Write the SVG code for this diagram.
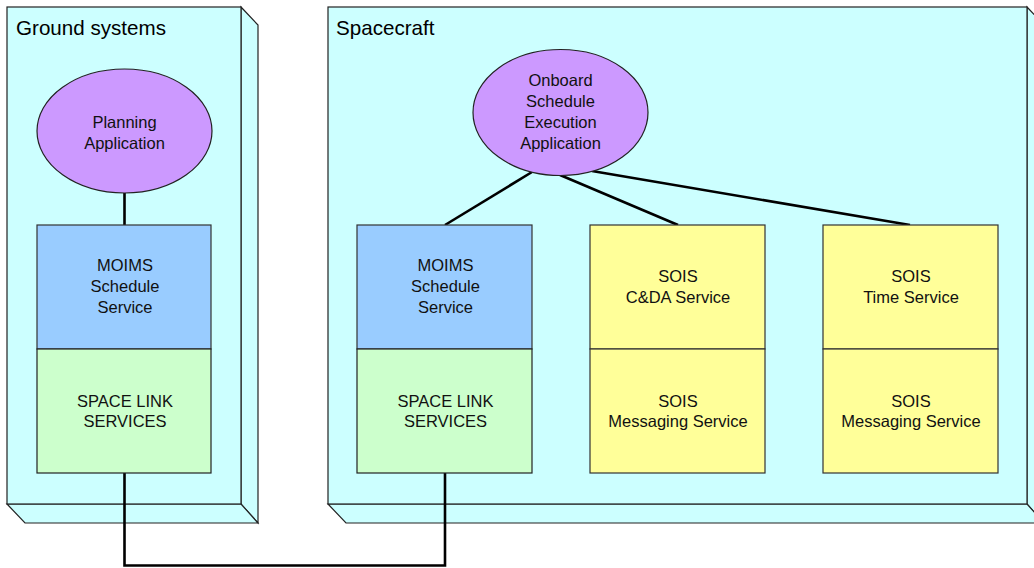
<svg xmlns="http://www.w3.org/2000/svg" width="1034" height="568" viewBox="0 0 1034 568">
  <style>
    .node3d { fill: #CCFFFF; stroke: #222; stroke-width: 1.2; stroke-linejoin: miter; }
    .ell { fill: #CC99FF; stroke: #222; stroke-width: 1.2; }
    .blue { fill: #99CCFF; stroke: #333; stroke-width: 1.2; }
    .green { fill: #CCFFCC; stroke: #222; stroke-width: 1.2; }
    .yellow { fill: #FFFF99; stroke: #333; stroke-width: 1.2; }
    .title { font-family: "Liberation Sans", Arial, sans-serif; font-size: 20.6px; fill: #000; }
    .lbl { font-family: "Liberation Sans", Arial, sans-serif; font-size: 16.5px; fill: #111; text-anchor: middle; }
    .conn { fill: none; stroke: #000; stroke-width: 2.6; }
  </style>

  <!-- Ground systems node (3D box) -->
  <g id="ground-systems">
    <polygon class="node3d" points="241,7 258,25 258,523 241,504"/>
    <polygon class="node3d" points="7,504 241,504 258,523 25,523"/>
    <rect class="node3d" x="7" y="7" width="234" height="497"/>
    <text class="title" x="16" y="35">Ground systems</text>
  </g>

  <!-- Spacecraft node (3D box) -->
  <g id="spacecraft">
    <polygon class="node3d" points="1027,7 1044,25 1044,523 1027,504"/>
    <polygon class="node3d" points="328,504 1027,504 1044,523 346,523"/>
    <rect class="node3d" x="328" y="7" width="699" height="497"/>
    <text class="title" x="336" y="35">Spacecraft</text>
  </g>

  <!-- Connectors -->
  <g id="connectors">
    <line class="conn" x1="124.5" y1="193" x2="124.5" y2="225"/>
    <line class="conn" x1="532" y1="172" x2="445" y2="225"/>
    <line class="conn" x1="560" y1="175" x2="678" y2="225"/>
    <line class="conn" x1="592" y1="171" x2="910" y2="225"/>
    <polyline class="conn" points="124.5,473 124.5,565.5 445,565.5 445,473"/>
  </g>

  <!-- Ground-side components -->
  <g id="planning-application">
    <ellipse class="ell" cx="124.5" cy="131" rx="87.5" ry="62"/>
    <text class="lbl" x="124.5" y="128">Planning</text>
    <text class="lbl" x="124.5" y="148.5">Application</text>
  </g>
  <g id="ground-moims">
    <rect class="blue" x="37" y="225" width="174" height="124"/>
    <text class="lbl" x="125" y="271">MOIMS</text>
    <text class="lbl" x="125" y="292">Schedule</text>
    <text class="lbl" x="125" y="313">Service</text>
  </g>
  <g id="ground-sls">
    <rect class="green" x="37" y="349" width="174" height="124"/>
    <text class="lbl" x="125" y="407">SPACE LINK</text>
    <text class="lbl" x="125" y="427">SERVICES</text>
  </g>

  <!-- Spacecraft-side components -->
  <g id="onboard-application">
    <ellipse class="ell" cx="560.5" cy="112.5" rx="87.5" ry="63"/>
    <text class="lbl" x="560.5" y="86">Onboard</text>
    <text class="lbl" x="560.5" y="107">Schedule</text>
    <text class="lbl" x="560.5" y="128">Execution</text>
    <text class="lbl" x="560.5" y="149">Application</text>
  </g>
  <g id="sc-moims">
    <rect class="blue" x="357" y="225" width="175" height="124"/>
    <text class="lbl" x="445.5" y="271">MOIMS</text>
    <text class="lbl" x="445.5" y="292">Schedule</text>
    <text class="lbl" x="445.5" y="313">Service</text>
  </g>
  <g id="sc-sls">
    <rect class="green" x="357" y="349" width="175" height="124"/>
    <text class="lbl" x="445.5" y="407">SPACE LINK</text>
    <text class="lbl" x="445.5" y="427">SERVICES</text>
  </g>
  <g id="sois-cda">
    <rect class="yellow" x="590" y="225" width="175" height="124"/>
    <text class="lbl" x="678" y="282">SOIS</text>
    <text class="lbl" x="678" y="303">C&amp;DA Service</text>
  </g>
  <g id="sois-msg-1">
    <rect class="yellow" x="590" y="349" width="175" height="124"/>
    <text class="lbl" x="678" y="407">SOIS</text>
    <text class="lbl" x="678" y="427">Messaging Service</text>
  </g>
  <g id="sois-time">
    <rect class="yellow" x="823" y="225" width="175" height="124"/>
    <text class="lbl" x="911" y="282">SOIS</text>
    <text class="lbl" x="911" y="303">Time Service</text>
  </g>
  <g id="sois-msg-2">
    <rect class="yellow" x="823" y="349" width="175" height="124"/>
    <text class="lbl" x="911" y="407">SOIS</text>
    <text class="lbl" x="911" y="427">Messaging Service</text>
  </g>
</svg>
